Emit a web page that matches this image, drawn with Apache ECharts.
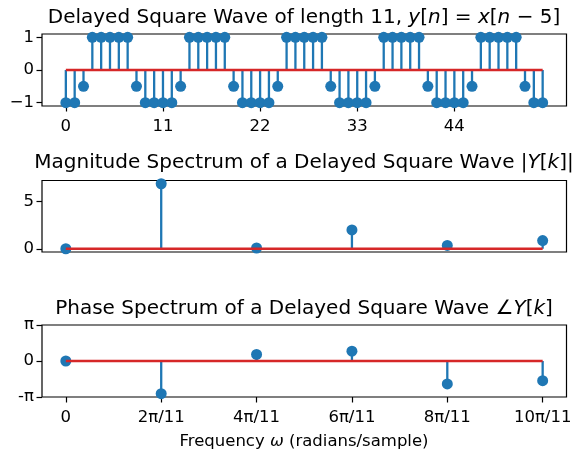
<!DOCTYPE html>
<html>
<head>
<meta charset="utf-8">
<script src="https://cdn.jsdelivr.net/npm/echarts@6/dist/echarts.min.js"></script>
<style>html,body{margin:0;padding:0;background:#fff}#c{width:576px;height:449px}</style>
</head>
<body>
<div id="c"></div>
<script>
// ---- Data ----
// Delayed square wave y[n], n = 0..54
const waveValues = [
  -1, -1,
  -0.5, 1, 1, 1, 1, 1, -0.5, -1, -1, -1, -1,
  -0.5, 1, 1, 1, 1, 1, -0.5, -1, -1, -1, -1,
  -0.5, 1, 1, 1, 1, 1, -0.5, -1, -1, -1, -1,
  -0.5, 1, 1, 1, 1, 1, -0.5, -1, -1, -1, -1,
  -0.5, 1, 1, 1, 1, 1, -0.5, -1, -1
];
const waveXTicks = [0, 11, 22, 33, 44];
const waveYTicks = [-1, 0, 1];

// Spectrum, k = 0..5
const freqLabels = ['0', '2π/11', '4π/11', '6π/11', '8π/11', '10π/11'];
const freqTicks = [0, 1, 2, 3, 4, 5];
const magnitudeValues = [0.0, 6.88, 0.08, 1.99, 0.35, 0.87];
const magYTicks = [0, 5];
const phaseValues = [0.0, -2.856, 0.571, 0.857, -1.999, -1.714];
const phaseYTicks = [-Math.PI, 0, Math.PI];
const phaseYLabels = ['-π', '0', 'π'];

// ---- Styles ----
const BLUE = '#1f77b4';
const RED = '#d62728';
const FONT = 'DejaVu Sans';
const TICK_FS = 16.5;
const TITLE_FS = 20;
const tickFont = { color: '#000', fontFamily: FONT, fontSize: TICK_FS };

function stemSeries(xi, yi, pts) {
  return {
    type: 'custom', xAxisIndex: xi, yAxisIndex: yi, z: 2,
    data: pts,
    renderItem: function (params, api) {
      const p0 = api.coord([api.value(0), 0]);
      const p1 = api.coord([api.value(0), api.value(1)]);
      return { type: 'line', shape: { x1: p0[0], y1: p0[1], x2: p1[0], y2: p1[1] },
               style: { stroke: BLUE, lineWidth: 2.3 } };
    }
  };
}
function markerSeries(xi, yi, pts) {
  return { type: 'scatter', xAxisIndex: xi, yAxisIndex: yi, z: 3, data: pts,
           symbol: 'circle', symbolSize: 11, itemStyle: { color: BLUE, opacity: 1 },
           emphasis: { disabled: true } };
}
function baseSeries(xi, yi, x0, x1) {
  return { type: 'line', xAxisIndex: xi, yAxisIndex: yi, z: 4, data: [[x0, 0], [x1, 0]],
           symbol: 'none', lineStyle: { color: RED, width: 2.5 }, silent: true };
}

const wavePts = waveValues.map((v, i) => [i, v]);
const magPts = magnitudeValues.map((v, i) => [i, v]);
const phasePts = phaseValues.map((v, i) => [i, v]);

const gridBase = { left: 42, right: 9.5, show: true, borderColor: '#000', borderWidth: 1.2, backgroundColor: 'transparent' };
const grids = [
  Object.assign({}, gridBase, { top: 34, height: 72 }),
  Object.assign({}, gridBase, { top: 180.5, height: 71.5 }),
  Object.assign({}, gridBase, { top: 325, height: 72 })
];

function xAxis(gi, min, max, ticks, formatter, showLabels) {
  return {
    type: 'value', gridIndex: gi, min: min, max: max,
    axisLine: { show: false, onZero: false }, splitLine: { show: false },
    axisTick: { show: showLabels, customValues: ticks, length: 5.5, lineStyle: { color: '#000', width: 1.2 } },
    axisLabel: { show: showLabels, customValues: ticks, formatter: formatter, margin: 12, ...tickFont }
  };
}
function yAxis(gi, min, max, ticks, formatter) {
  return {
    type: 'value', gridIndex: gi, min: min, max: max,
    axisLine: { show: false, onZero: false }, splitLine: { show: false },
    axisTick: { show: true, customValues: ticks, length: 5.5, lineStyle: { color: '#000', width: 1.2 } },
    axisLabel: { show: true, customValues: ticks, formatter: formatter, margin: 8, ...tickFont }
  };
}

function title(text, top) {
  return { text: text, left: 304, top: top, textAlign: 'center', padding: 0,
           textStyle: { fontFamily: FONT, fontSize: TITLE_FS, fontWeight: 'normal', color: '#000',
                        rich: { i: { fontStyle: 'italic', fontFamily: FONT, fontSize: TITLE_FS, color: '#000' } } } };
}

const option = {
  animation: false,
  backgroundColor: '#fff',
  title: [
    title('Delayed Square Wave of length 11, {i|y}[{i|n}] = {i|x}[{i|n} − 5]', 8),
    title('Magnitude Spectrum of a Delayed Square Wave |{i|Y}[{i|k}]|', 153),
    title('Phase Spectrum of a Delayed Square Wave ∠{i|Y}[{i|k}]', 299),
    { text: 'Frequency {i|ω} (radians/sample)', left: 304, top: 433, textAlign: 'center', padding: 0,
      textStyle: { fontFamily: FONT, fontSize: TICK_FS, fontWeight: 'normal', color: '#000',
                   rich: { i: { fontStyle: 'italic', fontFamily: FONT, fontSize: TICK_FS, color: '#000' } } } }
  ],
  grid: grids,
  xAxis: [
    xAxis(0, -2.7, 56.7, waveXTicks, v => String(Math.round(v)), true),
    xAxis(1, -0.25, 5.25, freqTicks, v => '', false),
    xAxis(2, -0.25, 5.25, freqTicks, v => freqLabels[Math.round(v)], true)
  ],
  yAxis: [
    yAxis(0, -1.1, 1.1, waveYTicks, v => (v < 0 ? '−' + Math.abs(v) : String(v))),
    yAxis(1, -0.344, 7.224, magYTicks, v => String(v)),
    yAxis(2, -Math.PI, Math.PI, phaseYTicks, v => phaseYLabels[phaseYTicks.findIndex(t => Math.abs(t - v) < 1e-6)] || '')
  ],
  series: [
    stemSeries(0, 0, wavePts), markerSeries(0, 0, wavePts), baseSeries(0, 0, 0, waveValues.length - 1),
    stemSeries(1, 1, magPts), markerSeries(1, 1, magPts), baseSeries(1, 1, 0, magnitudeValues.length - 1),
    stemSeries(2, 2, phasePts), markerSeries(2, 2, phasePts), baseSeries(2, 2, 0, phaseValues.length - 1)
  ]
};

const chart = echarts.init(document.getElementById('c'), null, { renderer: 'canvas' });
chart.setOption(option);
</script>
</body>
</html>
